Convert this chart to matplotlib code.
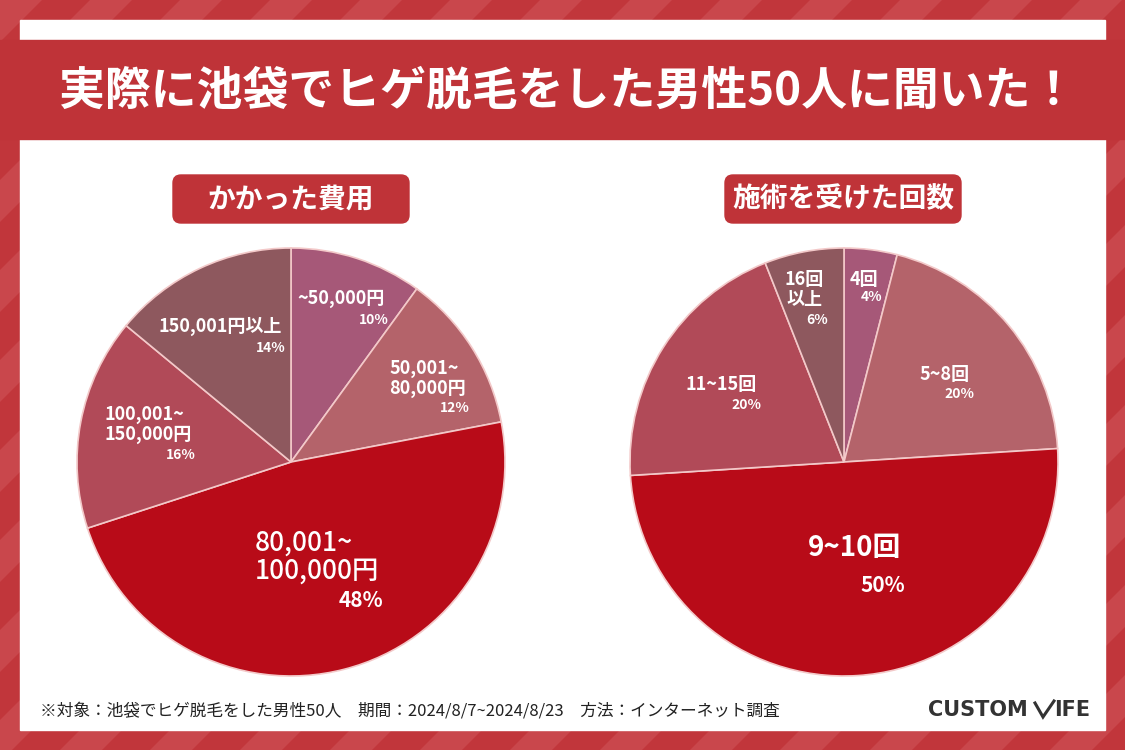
import matplotlib.pyplot as plt
from matplotlib.patches import Polygon, Rectangle, FancyBboxPatch
from matplotlib.lines import Line2D

plt.rcParams['font.family'] = ['Noto Sans CJK JP', 'DejaVu Sans']

# data
cost_labels = ["~50,000円", "50,001~\n80,000円", "80,001~\n100,000円", "100,001~\n150,000円", "150,001円以上"]
cost_values = [10, 12, 48, 16, 14]
count_labels = ["4回", "5~8回", "9~10回", "11~15回", "16回\n以上"]
count_values = [4, 20, 50, 20, 6]

colors = ["#a65878", "#b4636a", "#b80b18", "#b14a58", "#8e585e"]
edge_color = "#f3c9c9"
red = "#bf3338"

W, H = 1125, 750
fig = plt.figure(figsize=(W / 100, H / 100), dpi=100)
bg = fig.add_axes([0, 0, 1, 1])
bg.set_xlim(0, W)
bg.set_ylim(H, 0)
bg.axis("off")

# striped background
bg.add_patch(Rectangle((0, 0), W, H, color="#c1363b", zorder=0))
period, band = 90, 42
for x0 in range(-H, W + H, period):
    bg.add_patch(Polygon([(x0, H), (x0 + band, H), (x0 + band + H, 0), (x0 + H, 0)],
                         color="#c9474c", lw=0, zorder=0.5))

# white panel and title band
bg.add_patch(Rectangle((20, 20), 1085, 710, color="white", zorder=1))
bg.add_patch(Rectangle((0, 40), W, 99, color=red, zorder=2))
bg.text(568, 91, "実際に池袋でヒゲ脱毛をした男性50人に聞いた！", color="white",
        fontsize=33, fontweight="bold", ha="center", va="center", zorder=3)

# subtitle boxes
for cx, title in [(291, "かかった費用"), (843, "施術を受けた回数")]:
    bg.add_patch(FancyBboxPatch((cx - 118, 175), 236, 48,
                                boxstyle="round,pad=0,rounding_size=8",
                                color=red, zorder=2))
    bg.text(cx, 199, title, color="white", fontsize=20, fontweight="bold",
            ha="center", va="center", zorder=3)


def draw_pie(cx, cy, r, values):
    ax = fig.add_axes([(cx - r) / W, (H - cy - r) / H, 2 * r / W, 2 * r / H])
    ax.pie(values, colors=colors, startangle=90, counterclock=False,
           wedgeprops=dict(edgecolor=edge_color, linewidth=1.2))
    ax.set_xlim(-1, 1)
    ax.set_ylim(-1, 1)
    ax.axis("off")
    return ax


draw_pie(291, 462, 214, cost_values)
draw_pie(844, 462, 214, count_values)

# overlay for labels on top of the pies
top = fig.add_axes([0, 0, 1, 1])
top.set_xlim(0, W)
top.set_ylim(H, 0)
top.axis("off")


def label(x, y, name, pct, size, psize, dy, weight="bold", align="left"):
    top.text(x, y, name, color="white", fontsize=size, fontweight=weight,
             ha="right", va="baseline", multialignment=align, linespacing=1.05)
    top.text(x + 4, y + dy, pct, color="white", fontsize=psize, fontweight="bold",
             ha="right", va="baseline")


# right edge and baseline of last line for each label
cost_pos = [(385, 304, 20), (466, 394, 18), (379, 579, 28), (192, 440, 19), (282, 332, 20)]
for (x, y, dy), name, v in zip(cost_pos, cost_labels, cost_values):
    if v == max(cost_values):
        label(x, y, name, f"{v}%", 19, 15, dy, weight="medium")
    else:
        label(x, y, name, f"{v}%", 13, 10, dy)

count_pos = [(878, 285, 16), (970, 380, 18), (901, 556, 36), (757, 390, 19), (824, 305, 19)]
for (x, y, dy), name, v in zip(count_pos, count_labels, count_values):
    if v == max(count_values):
        label(x, y, name, f"{v}%", 20, 15, dy)
    else:
        label(x, y, name, f"{v}%", 13, 10, dy, align="center")

# footer
top.text(40, 711, "※対象：池袋でヒゲ脱毛をした男性50人　期間：2024/8/7~2024/8/23　方法：インターネット調査",
         fontsize=12, color="#222222", ha="left", va="center")
logo = dict(fontsize=15, fontweight="bold", color="#333333", va="center", family="DejaVu Sans")
top.text(928, 710, "CUSTOM", ha="left", **logo)
top.text(1090, 710, "IFE", ha="right", **logo)
top.add_line(Line2D([1035, 1043, 1054], [703, 717, 701], color="#333333", lw=2.2,
                    solid_joinstyle="miter"))

fig.savefig("out.png", dpi=100)
